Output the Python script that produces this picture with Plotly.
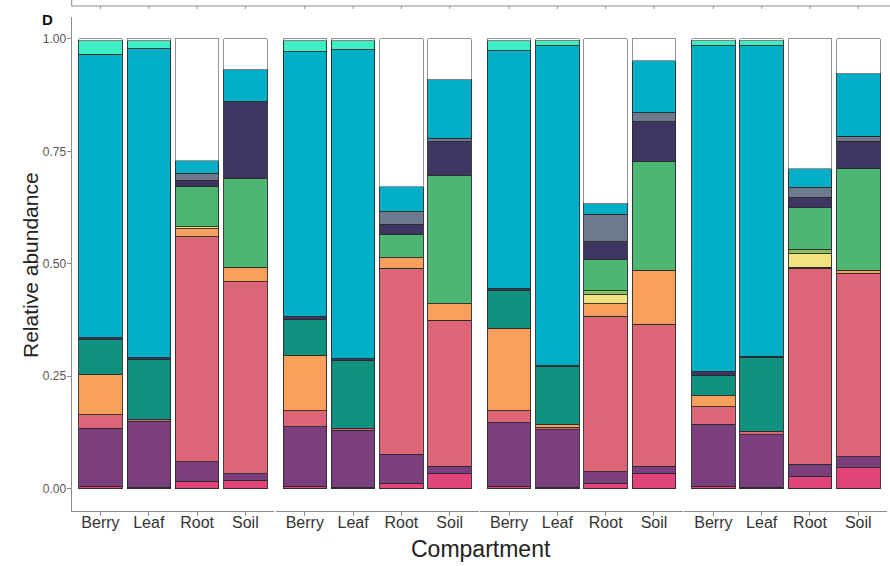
import plotly.graph_objects as go
from plotly.subplots import make_subplots

W, H = 890, 566

compartments = ["Berry", "Leaf", "Root", "Soil"]
n_groups = 4

# Relative abundance per taxon; 16 bars = 4 panels x (Berry, Leaf, Root, Soil)
deep_pink = [0.006, 0.003, 0.016, 0.019, 0.006, 0.003, 0.012, 0.034,
             0.006, 0.003, 0.012, 0.034, 0.006, 0.003, 0.028, 0.047]
purple = [0.128, 0.147, 0.044, 0.014, 0.132, 0.127, 0.065, 0.016,
          0.141, 0.128, 0.026, 0.016, 0.137, 0.117, 0.026, 0.024]
salmon = [0.030, 0.005, 0.500, 0.427, 0.035, 0.004, 0.413, 0.325,
          0.026, 0.006, 0.346, 0.316, 0.039, 0.008, 0.436, 0.408]
orange = [0.089, 0.0, 0.018, 0.032, 0.124, 0.0, 0.024, 0.036,
          0.184, 0.006, 0.027, 0.120, 0.025, 0.0, 0.002, 0.007]
yellow = [0.0, 0.0, 0.005, 0.0, 0.0, 0.0, 0.0, 0.0,
          0.0, 0.0, 0.020, 0.0, 0.0, 0.0, 0.031, 0.0]
light_green = [0.0, 0.0, 0.0, 0.0, 0.0, 0.0, 0.0, 0.0,
               0.0, 0.0, 0.009, 0.0, 0.0, 0.0, 0.010, 0.0]
green = [0.0, 0.0, 0.088, 0.198, 0.0, 0.0, 0.052, 0.285,
         0.0, 0.0, 0.069, 0.241, 0.0, 0.0, 0.093, 0.226]
teal = [0.079, 0.133, 0.0, 0.0, 0.080, 0.152, 0.0, 0.0,
        0.083, 0.128, 0.0, 0.0, 0.044, 0.163, 0.0, 0.0]
navy = [0.004, 0.003, 0.015, 0.171, 0.005, 0.003, 0.022, 0.076,
        0.005, 0.002, 0.040, 0.089, 0.009, 0.004, 0.022, 0.061]
slate = [0.0, 0.0, 0.015, 0.0, 0.0, 0.0, 0.028, 0.007,
         0.0, 0.0, 0.061, 0.020, 0.0, 0.0, 0.022, 0.011]
cyan = [0.630, 0.687, 0.028, 0.072, 0.590, 0.687, 0.056, 0.131,
        0.529, 0.712, 0.025, 0.116, 0.725, 0.690, 0.042, 0.140]
aquamarine = [0.031, 0.019, 0.0, 0.0, 0.025, 0.021, 0.0, 0.0,
              0.023, 0.012, 0.0, 0.0, 0.012, 0.012, 0.0, 0.0]
other = [0.003, 0.003, 0.271, 0.067, 0.003, 0.003, 0.328, 0.090,
         0.003, 0.003, 0.365, 0.048, 0.003, 0.003, 0.288, 0.076]

layers = [
    ("deep_pink", deep_pink, "#E0447A"),
    ("purple", purple, "#7B3F7F"),
    ("salmon", salmon, "#DE6478"),
    ("orange", orange, "#F9A05C"),
    ("yellow", yellow, "#F3E280"),
    ("light_green", light_green, "#8CBF5E"),
    ("green", green, "#4CB673"),
    ("teal", teal, "#0F917F"),
    ("navy", navy, "#3E3660"),
    ("slate", slate, "#6E7A8E"),
    ("cyan", cyan, "#00AFC6"),
    ("aquamarine", aquamarine, "#3DEFC3"),
    ("other", other, "#FFFFFF"),
]

fig = make_subplots(rows=1, cols=n_groups, shared_yaxes=True,
                    horizontal_spacing=0.0)

for name, vals, col in layers:
    for g in range(n_groups):
        chunk = vals[g * 4:(g + 1) * 4]
        yv = [v if v > 0 else None for v in chunk]
        fig.add_trace(go.Bar(
            x=compartments, y=yv, name=name, showlegend=False,
            marker=dict(color=col,
                        line=dict(color="#8a8a8a" if name == "other" else "#2a2a2a",
                                  width=0.9)),
        ), row=1, col=g + 1)

# panel geometry in pixels
unit = 48.3
panel_w = 4.2 * unit
pitch = 204.3
left0 = 71.5
y_bot = 1 - 511.2 / H
y_top = 1 - 16.5 / H

axis_col = "#8c8c8c"
font_fam = "Liberation Sans, Arial"
for g in range(n_groups):
    x0 = (left0 + g * pitch) / W
    x1 = (left0 + g * pitch + panel_w) / W
    xa = "xaxis" if g == 0 else f"xaxis{g + 1}"
    ya = "yaxis" if g == 0 else f"yaxis{g + 1}"
    fig.layout[xa].update(
        domain=[x0, min(x1, 1.0)], range=[-0.6, 3.6],
        type="category", categoryorder="array", categoryarray=compartments,
        showline=True, linecolor=axis_col, linewidth=1,
        ticks="outside", ticklen=4, tickcolor=axis_col, tickwidth=1,
        ticklabelstandoff=-7,
        tickfont=dict(family=font_fam, size=16, color="#333333"),
        showgrid=False, zeroline=False, fixedrange=True,
    )
    fig.layout[ya].update(
        domain=[y_bot, y_top], range=[-0.05, 1.05],
        showgrid=False, zeroline=False,
        showline=(g == 0), linecolor=axis_col, linewidth=1,
        ticks="outside" if g == 0 else "", ticklen=4, tickcolor=axis_col,
        showticklabels=(g == 0), ticklabelstandoff=-2,
        tickvals=[0, 0.25, 0.5, 0.75, 1.0],
        ticktext=["0.00", "0.25", "0.50", "0.75", "1.00"],
        tickfont=dict(family=font_fam, size=12, color="#555555"),
    )

# bottom axis of the panel above (partially visible)
top_y = 1 - 6 / H
shapes = [
    dict(type="line", xref="paper", yref="paper", x0=71.7 / W, x1=1.0,
         y0=top_y, y1=top_y, line=dict(color=axis_col, width=1)),
    dict(type="line", xref="paper", yref="paper", x0=71.7 / W, x1=71.7 / W,
         y0=top_y, y1=1.0, line=dict(color=axis_col, width=1)),
]
for g in range(n_groups):
    xr = "x" if g == 0 else f"x{g + 1}"
    for j in range(4):
        shapes.append(dict(type="line", xref=xr, yref="paper", x0=j, x1=j,
                           y0=top_y, y1=top_y - 3 / H,
                           line=dict(color=axis_col, width=1)))

fig.update_layout(
    width=W, height=H, barmode="stack", bargap=0.1,
    margin=dict(l=0, r=0, t=0, b=0),
    paper_bgcolor="white", plot_bgcolor="white",
    shapes=shapes,
    annotations=[
        dict(text="<b>D</b>", x=47 / W, y=1 - 19 / H, xref="paper", yref="paper",
             xanchor="center", yanchor="middle", showarrow=False,
             font=dict(family=font_fam, size=15, color="#111111")),
        dict(text="Relative abundance", x=30 / W, y=1 - 265 / H, xref="paper",
             yref="paper", xanchor="center", yanchor="middle",
             showarrow=False, textangle=-90,
             font=dict(family=font_fam, size=21, color="#222222")),
        dict(text="Compartment", x=481 / W, y=1 - 549 / H, xref="paper",
             yref="paper", xanchor="center", yanchor="middle", showarrow=False,
             font=dict(family=font_fam, size=23, color="#222222")),
    ],
)

fig.write_html("out.html")
